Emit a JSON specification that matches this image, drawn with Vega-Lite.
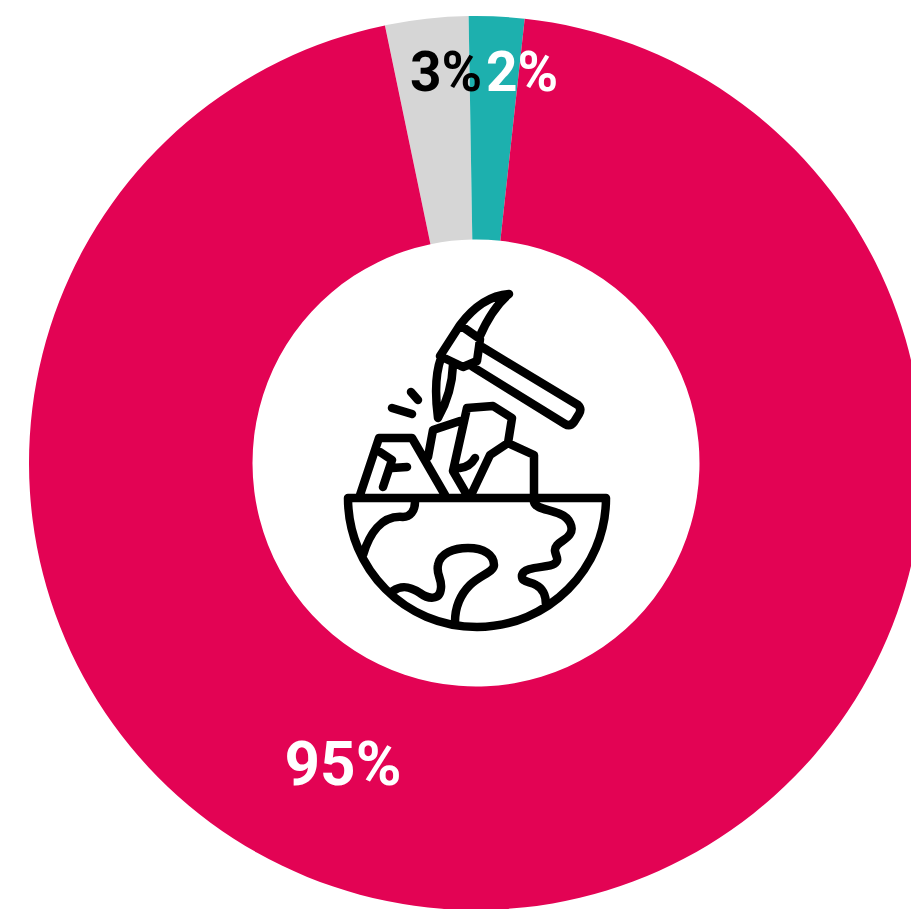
{"$schema":"https://vega.github.io/schema/vega-lite/v6.json","width":870,"height":892,"autosize":{"type":"none"},"padding":{"left":41,"top":17,"right":0,"bottom":0},"background":"white","config":{"view":{"stroke":null}},"data":{"values":[{"category":"C","value":3,"rank":1,"label":"3%"},{"category":"B","value":2,"rank":2,"label":"2%"},{"category":"A","value":95,"rank":3,"label":"95%"}]},"layer":[{"mark":{"type":"arc","radius":447,"radius2":223.5},"encoding":{"theta":{"field":"value","type":"quantitative","stack":true,"scale":{"domain":[0,100],"range":[-0.205,6.078]}},"order":{"field":"rank","type":"quantitative"},"color":{"field":"category","type":"nominal","legend":null,"scale":{"domain":["A","B","C"],"range":["#E30354","#1DB0AE","#D6D6D6"]}}}},{"transform":[{"filter":"datum.category==='C'"}],"mark":{"type":"text","font":"Roboto","fontWeight":700,"fontSize":55,"align":"center","baseline":"middle","color":"black","dx":-30,"dy":-389},"encoding":{"text":{"field":"label"}}},{"transform":[{"filter":"datum.category==='B'"}],"mark":{"type":"text","font":"Roboto","fontWeight":700,"fontSize":55,"align":"center","baseline":"middle","color":"white","dx":46,"dy":-389},"encoding":{"text":{"field":"label"}}},{"transform":[{"filter":"datum.category==='A'"}],"mark":{"type":"text","font":"Roboto","fontWeight":700,"fontSize":62,"align":"center","baseline":"middle","color":"white","dx":-133,"dy":303},"encoding":{"text":{"field":"label"}}},{"data":{"values":[{"name":"mining icon"}]},"mark":{"type":"point","size":4,"filled":false,"fill":null,"opacity":1,"stroke":"black","strokeWidth":8.5,"strokeCap":"round","strokeJoin":"round","shape":"M33,-169 Q6,-167 -16,-138 M33,-169 Q16,-155 3,-125 M-16,-138 L4,-124 L3,-116 L1,-102 L-13,-96 L-36,-107 Z M-35,-105 Q-43,-83 -38,-45 Q-24,-70 -23,-98 M6,-116 L102,-58 Q106,-54 103,-49 L98,-41 Q94,-36 89,-39 L-3,-96 M-65,-71 L-58,-63 M-84,-55 L-64,-49 M-116,32 L-97,-25 L-64,-25 L-31,32 M-96,-11 L-84,-3 L-93,24 M-84,5 L-69,4 M-48,-6 L-43,-33 L-16,-42 M-9,32 L-23,8 L-9,-55 L17,-57 L36,-45 L32,-20 L14,-8 L-4,30 M-16,5 Q-6,4 -1,-5 M32,-20 L58,-8 L58,32 M-128,35 L130,35 C130,106 72,164 1,164 C-71,164 -128,106 -128,35 Z M-61,39 C-61,48 -66,54 -73,54 C-95,52 -107,72 -113,92 M-83,128 C-72,120 -62,126 -56,130 C-48,136 -36,138 -35,125 C-34,115 -40,112 -38,102 C-36,90 -22,85 -8,85 C8,85 18,92 18,102 C18,109 4,112 -6,122 C-16,132 -21,145 -21,159 M58,39 C60,46 72,46 84,51 C94,55 98,65 94,71 C90,78 78,80 79,88 C80,94 84,97 78,101 C72,105 48,103 46,112 C45,120 54,118 60,122 C68,126 70,134 70,142"},"encoding":{}}]}
